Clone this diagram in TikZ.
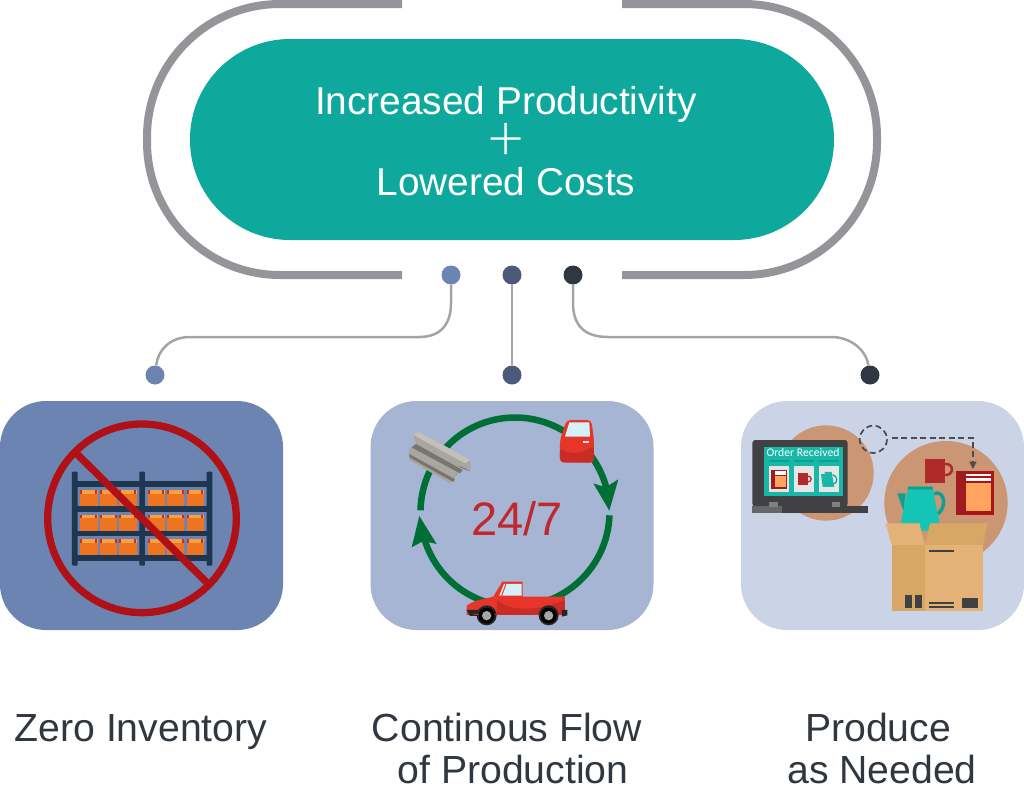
\documentclass[tikz,border=0pt]{standalone}
\usepackage{fontspec}
\setmainfont{Liberation Sans}
\newfontfamily\lightfont{Lato Light}
\newfontfamily\screenfont{Carlito}
\usetikzlibrary{positioning}
\definecolor{tealpill}{HTML}{0FA89D}
\definecolor{frameGray}{HTML}{939598}
\definecolor{wireGray}{HTML}{A3A4A7}
\definecolor{blueA}{HTML}{6B84B1}
\definecolor{blueB}{HTML}{A6B5D3}
\definecolor{blueC}{HTML}{CAD4E6}
\definecolor{dotB}{HTML}{4B5A78}
\definecolor{dotC}{HTML}{2F3742}
\definecolor{labelInk}{HTML}{30373F}
\definecolor{banRed}{HTML}{B01116}
\definecolor{shelfBlue}{HTML}{1F3650}
\definecolor{boxOrange}{HTML}{EE7422}
\definecolor{boxLight}{HTML}{F9A13F}
\definecolor{flowGreen}{HTML}{006F36}
\definecolor{carRed}{HTML}{E8352A}
\definecolor{carDark}{HTML}{C92C24}
\definecolor{glass}{HTML}{D5F0FB}
\definecolor{steel}{HTML}{A8A69E}
\definecolor{steelDark}{HTML}{77756E}
\definecolor{steelLight}{HTML}{C2C0B8}
\definecolor{tan}{HTML}{CB9674}
\definecolor{lapDark}{HTML}{414042}
\definecolor{screenTeal}{HTML}{17B8A8}
\definecolor{potTeal}{HTML}{14C4B4}
\definecolor{potDark}{HTML}{0E9E92}
\definecolor{mugRed}{HTML}{B02A2A}
\definecolor{spineRed}{HTML}{9C1C1F}
\definecolor{pageOrange}{HTML}{FEA45F}
\definecolor{cardLight}{HTML}{E6E6E6}
\definecolor{boxLit}{HTML}{E4B277}
\definecolor{boxShade}{HTML}{D9A765}
\definecolor{hourRed}{HTML}{C1272D}
\begin{document}
\begin{tikzpicture}[x=1pt,y=-1pt]
	\tikzstyle{Pill} = [rectangle, rounded corners=100pt, minimum width=644pt, minimum height=201pt, fill=tealpill, inner sep=0pt]
	\tikzstyle{Panel} = [rectangle, rounded corners=46pt, minimum width=283pt, minimum height=229pt, inner sep=0pt]
	\tikzstyle{Dot} = [circle, minimum size=19pt, inner sep=0pt]
	\tikzstyle{Title} = [white, font=\fontsize{38.8}{39}\selectfont, anchor=base, inner sep=0pt]
	\tikzstyle{Label} = [labelInk, font=\fontsize{39.2}{39}\selectfont, anchor=base, inner sep=0pt]
	\tikzstyle{wire} = [wireGray, line width=2.5pt]
	\tikzstyle{frame} = [frameGray, line width=8pt, rounded corners=133pt]
	\useasboundingbox (0,0) rectangle (1024,803);

	\draw [frame] (402,4) -- (147,4) -- (147,275) -- (402,275);
	\draw [frame] (622,4) -- (877,4) -- (877,275) -- (622,275);
	\node (pill) [Pill] at (512,139.5) {};
	\node (title1) [Title] at (506,114) {Increased Productivity};
	\node (plus) [Title, font=\lightfont\fontsize{64}{64}\selectfont] at (506,160) {+};
	\node (title2) [Title] at (506,195) {Lowered Costs};

	\node (top1) [Dot, fill=blueA] at (451,275) {};
	\node (top2) [Dot, fill=dotB] at (512,275) {};
	\node (top3) [Dot, fill=dotC] at (573,275) {};
	\node (low1) [Dot, fill=blueA] at (155,375) {};
	\node (low2) [Dot, fill=dotB] at (512,375) {};
	\node (low3) [Dot, fill=dotC] at (870,375) {};
	\draw [wire] (top1) -- (451,303) .. controls (451,325) and (440,337) .. (419,337) -- (190,337) .. controls (170,337) and (158,350) .. (low1);
	\draw [wire] (top2) -- (low2);
	\draw [wire] (top3) -- (573,303) .. controls (573,325) and (584,337) .. (608,337) -- (831,337) .. controls (851,337) and (866,350) .. (low3);

	\node (panel1) [Panel, fill=blueA] at (141.5,515.5) {};
	\node (panel2) [Panel, fill=blueB] at (512,515.5) {};
	\node (panel3) [Panel, fill=blueC] at (882.5,515.5) {};

	% shelves
	\begin{scope}[shift={(0,390)},scale=0.3333]
		\foreach \xa in {241,300,358,443,501,560} {
			\foreach \ya in {300,374,448} {
				\fill [boxOrange] (\xa,\ya) rectangle ++(52,48);
				\fill [boxLight] (\xa,\ya) rectangle ++(52,11);
				\fill [carDark] (\xa,\ya) rectangle ++(6,11);
				\fill [carDark] (\xa+44,\ya) rectangle ++(6,11);
			}
		}
		\foreach \ya in {273,348,422,496} {
			\fill [shelfBlue] (225,\ya) rectangle (630,\ya+17);
		}
		\foreach \xa in {216,418,620} {
			\fill [shelfBlue, rounded corners=1pt] (\xa,245) rectangle ++(17,282);
		}
		\draw [banRed, line width=7.3pt] (426,385) circle (283);
		\draw [banRed, line width=7.3pt] (225,186) -- (627,584);
	\end{scope}

	% flow circle
	\draw [flowGreen, line width=6.5pt] (515,512) ++(181:94.5) arc[start angle=181, end angle=346, radius=94.5];
	\draw [flowGreen, line width=6.5pt] (515,512) ++(2:94.5) arc[start angle=2, end angle=164, radius=94.5];
	\begin{scope}[shift={(370,390)},scale=0.3333]
		\fill [flowGreen] (718,362) -- (670,280) -- (707,292) -- (745,268) -- cycle;
		\fill [flowGreen] (148,378) -- (125,472) -- (160,453) -- (200,462) -- cycle;
		% bars
		\fill [steel] (130,135) -- (145,125) -- (302,210) -- (302,245) -- (270,230) -- (262,255) -- (240,280) -- (118,210) -- (118,175) -- (138,162) -- cycle;
		\fill [steelLight] (130,135) -- (145,125) -- (302,210) -- (285,220) -- cycle;
		\fill [steelDark] (138,162) -- (278,240) -- (270,250) -- (125,172) -- cycle;
		\fill [steelDark] (118,192) -- (255,268) -- (250,276) -- (118,202) -- cycle;
		\fill [steelDark] (265,228) -- (285,235) -- (300,245) -- (270,232) -- cycle;
		% door
		\fill [carRed, rounded corners=4pt] (570,215) -- (570,150) -- (590,90) -- (664,90) -- (672,150) -- (672,218) -- cycle;
		\fill [carDark, rounded corners=4pt] (570,172) .. controls (600,195) and (640,190) .. (672,165) -- (672,218) -- (570,218) -- cycle;
		\fill [glass] (585,140) -- (598,97) -- (658,97) -- (660,140) -- cycle;
		\fill [cardLight] (640,152) rectangle (658,160);
		% truck
		\fill [carRed] (290,648) .. controls (305,632) and (340,628) .. (370,620) -- (397,575) -- (458,575) -- (458,620) -- (585,620) -- (585,662) -- (578,675) -- (290,675) -- cycle;
		\fill [carDark] (380,675) -- (382,630) .. controls (420,665) and (500,665) .. (585,630) -- (585,662) -- (578,675) -- cycle;
		\fill [glass] (397,617) -- (410,582) -- (455,582) -- (455,617) -- cycle;
		\fill [white] (388,617) -- (402,582) -- (406,582) -- (393,617) -- cycle;
		\fill [black!85] (290,660) -- (330,660) -- (330,678) -- (300,678) -- cycle;
		\fill [black!85] (576,660) -- (592,660) -- (592,676) -- (576,680) -- cycle;
		\fill [black!85] (350,676) circle (30);
		\fill [black!85] (536,676) circle (30);
		\fill [carDark] (310,672) rectangle (380,676);
		\fill [black] (350,677) circle (24);
		\fill [black] (536,677) circle (24);
		\fill [black!35] (350,677) circle (14);
		\fill [black!35] (536,677) circle (14);
	\end{scope}
	\node (hours) [text=hourRed, font=\fontsize{47}{47}\selectfont, anchor=base, inner sep=0pt] at (517,535) {24/7};

	% order and box
	\begin{scope}[shift={(735,390)},scale=0.3333]
		\fill [tan] (273,249) circle (143);
		\fill [tan] (633,338) circle (185);
		% laptop
		\fill [lapDark, rounded corners=3pt] (52,350) -- (52,150) -- (338,150) -- (338,350) -- cycle;
		\fill [screenTeal] (88,170) rectangle (323,318);
		\fill [lapDark] (52,348) rectangle (398,368);
		\fill [black!60] (52,348) rectangle (140,368);
		\fill [black!50] (102,335) rectangle (128,350);
		\fill [black!50] (290,335) rectangle (315,350);
		\foreach \xa in {102,177,252} {
			\fill [potDark] (\xa,210) rectangle ++(60,7);
			\fill [cardLight] (\xa,227) rectangle ++(60,78);
		}
		\fill [spineRed] (108,240) rectangle (156,297);
		\fill [pageOrange] (121,258) rectangle (152,292);
		\fill [white] (121,243) rectangle (152,248);
		\fill [white] (121,250) rectangle (152,254);
		\fill [mugRed] (190,250) rectangle (218,285);
		\draw [mugRed, line width=1.2pt] (218,258) .. controls (232,258) and (232,276) .. (218,276);
		\fill [screenTeal] (258,252) -- (272,252) -- (268,246) -- (290,246) -- (298,291) -- (263,291) -- cycle;
		\draw [potDark, line width=1.2pt] (293,254) .. controls (310,258) and (308,280) .. (296,282);
		% dashed request
		\draw [black!70, line width=1.7pt, dash pattern=on 6pt off 3.5pt] (415,148) circle (41);
		\draw [black!70, line width=1.7pt, dash pattern=on 6pt off 3.5pt] (470,143) -- (714,143) -- (714,215);
		\fill [black!70] (703,215) -- (725,215) -- (714,237) -- cycle;
		% mug
		\fill [mugRed] (571,207) rectangle (629,278);
		\draw [mugRed, line width=2.5pt] (629,222) .. controls (658,218) and (658,258) .. (629,255);
		% book
		\fill [banRed] (662,243) rectangle (776,375);
		\fill [spineRed] (662,243) rectangle (690,375);
		\fill [white] (693,252) rectangle (767,258);
		\fill [white] (693,265) rectangle (767,272);
		\fill [pageOrange] (693,278) rectangle (767,362);
		% teapot
		\draw [potDark, line width=3.5pt] (597,310) .. controls (635,300) and (635,365) .. (600,375);
		\fill [potDark] (487,310) -- (512,310) -- (505,362) -- cycle;
		\fill [potTeal] (520,290) -- (592,290) -- (614,400) -- (585,400) -- (585,422) -- (555,422) -- (555,400) -- (497,400) -- cycle;
		\fill [potDark] (520,290) -- (592,290) -- (594,298) -- (518,298) -- cycle;
		% box
		\fill [boxShade] (470,465) rectangle (570,664);
		\fill [boxLit] (570,465) rectangle (744,664);
		\fill [boxLit] (452,400) -- (553,400) -- (570,465) -- (470,465) -- cycle;
		\fill [boxShade] (570,465) -- (585,400) -- (758,400) -- (744,465) -- cycle;
		\fill [lapDark] (582,480) rectangle (656,485);
		\fill [lapDark] (510,615) rectangle (530,655);
		\fill [lapDark] (540,615) rectangle (560,655);
		\fill [lapDark] (680,624) rectangle (730,653);
		\fill [lapDark] (582,637) rectangle (656,641);
		\fill [lapDark] (582,648) rectangle (656,653);
	\end{scope}
	\node (screen) [text=white, font=\screenfont\fontsize{11.7}{12}\selectfont, anchor=base, inner sep=0pt] at (803,456) {Order Received};

	\node (name1) [Label] at (141,741) {Zero Inventory};
	\node (name2a) [Label] at (507,741) {Continous Flow};
	\node (name2b) [Label] at (513,783) {of Production};
	\node (name3a) [Label] at (878,741) {Produce};
	\node (name3b) [Label] at (882,783) {as Needed};
\end{tikzpicture}
\end{document}
